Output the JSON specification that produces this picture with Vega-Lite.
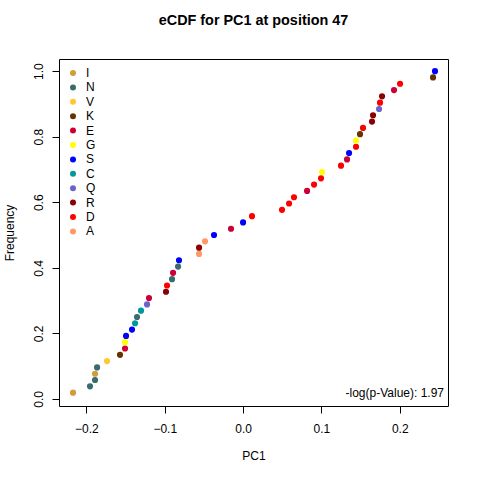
{
  "$schema": "https://vega.github.io/schema/vega-lite/v6.json",
  "autosize": {"type": "none"},
  "padding": {"left": 59, "top": 59, "right": 32, "bottom": 74},
  "width": 389,
  "height": 347,
  "title": {"text": "eCDF for PC1 at position 47", "fontSize": 14.4, "fontWeight": "bold", "anchor": "middle", "baseline": "alphabetic", "offset": 20, "color": "black", "font": "Liberation Sans"},
  "layer": [
    {
      "data": {"values": [
        {"aa": "I", "pc1": -0.2171, "freq": 0.0192},
        {"aa": "N", "pc1": -0.1954, "freq": 0.0385},
        {"aa": "N", "pc1": -0.1890, "freq": 0.0577},
        {"aa": "I", "pc1": -0.1890, "freq": 0.0769},
        {"aa": "N", "pc1": -0.1864, "freq": 0.0962},
        {"aa": "V", "pc1": -0.1737, "freq": 0.1154},
        {"aa": "K", "pc1": -0.1571, "freq": 0.1346},
        {"aa": "E", "pc1": -0.1507, "freq": 0.1538},
        {"aa": "G", "pc1": -0.1507, "freq": 0.1731},
        {"aa": "S", "pc1": -0.1494, "freq": 0.1923},
        {"aa": "S", "pc1": -0.1418, "freq": 0.2115},
        {"aa": "C", "pc1": -0.1379, "freq": 0.2308},
        {"aa": "N", "pc1": -0.1354, "freq": 0.25},
        {"aa": "C", "pc1": -0.1303, "freq": 0.2692},
        {"aa": "Q", "pc1": -0.1226, "freq": 0.2885},
        {"aa": "E", "pc1": -0.1201, "freq": 0.3077},
        {"aa": "R", "pc1": -0.0984, "freq": 0.3269},
        {"aa": "D", "pc1": -0.0971, "freq": 0.3462},
        {"aa": "N", "pc1": -0.0907, "freq": 0.3654},
        {"aa": "E", "pc1": -0.0894, "freq": 0.3846},
        {"aa": "N", "pc1": -0.0830, "freq": 0.4038},
        {"aa": "S", "pc1": -0.0818, "freq": 0.4231},
        {"aa": "A", "pc1": -0.0562, "freq": 0.4423},
        {"aa": "R", "pc1": -0.0562, "freq": 0.4615},
        {"aa": "A", "pc1": -0.0486, "freq": 0.4808},
        {"aa": "S", "pc1": -0.0371, "freq": 0.5},
        {"aa": "E", "pc1": -0.0154, "freq": 0.5192},
        {"aa": "S", "pc1": 0.0000, "freq": 0.5385},
        {"aa": "D", "pc1": 0.0114, "freq": 0.5577},
        {"aa": "D", "pc1": 0.0497, "freq": 0.5769},
        {"aa": "D", "pc1": 0.0587, "freq": 0.5962},
        {"aa": "D", "pc1": 0.0650, "freq": 0.6154},
        {"aa": "E", "pc1": 0.0817, "freq": 0.6346},
        {"aa": "D", "pc1": 0.0906, "freq": 0.6538},
        {"aa": "D", "pc1": 0.0995, "freq": 0.6731},
        {"aa": "G", "pc1": 0.1008, "freq": 0.6923},
        {"aa": "D", "pc1": 0.1250, "freq": 0.7115},
        {"aa": "E", "pc1": 0.1327, "freq": 0.7308},
        {"aa": "S", "pc1": 0.1353, "freq": 0.75},
        {"aa": "D", "pc1": 0.1442, "freq": 0.7692},
        {"aa": "G", "pc1": 0.1442, "freq": 0.7885},
        {"aa": "K", "pc1": 0.1493, "freq": 0.8077},
        {"aa": "D", "pc1": 0.1531, "freq": 0.8269},
        {"aa": "R", "pc1": 0.1646, "freq": 0.8462},
        {"aa": "R", "pc1": 0.1659, "freq": 0.8654},
        {"aa": "Q", "pc1": 0.1736, "freq": 0.8846},
        {"aa": "D", "pc1": 0.1748, "freq": 0.9038},
        {"aa": "R", "pc1": 0.1774, "freq": 0.9231},
        {"aa": "E", "pc1": 0.1927, "freq": 0.9423},
        {"aa": "D", "pc1": 0.2004, "freq": 0.9615},
        {"aa": "K", "pc1": 0.2425, "freq": 0.9808},
        {"aa": "S", "pc1": 0.2450, "freq": 1.0}
      ]},
      "mark": {"type": "circle", "size": 38, "opacity": 1},
      "encoding": {
        "x": {"field": "pc1", "type": "quantitative", "scale": {"domain": [-0.235, 0.2616], "nice": false, "zero": false},
              "axis": {"title": "PC1", "values": [-0.2, -0.1, 0, 0.1, 0.2], "format": ".1f"}},
        "y": {"field": "freq", "type": "quantitative", "scale": {"domain": [-0.0215, 1.037], "nice": false, "zero": false},
              "axis": {"title": "Frequency", "values": [0, 0.2, 0.4, 0.6, 0.8, 1.0], "format": ".1f", "labelAngle": -90, "labelAlign": "center", "labelBaseline": "alphabetic"}},
        "color": {"field": "aa", "type": "nominal",
                  "scale": {"domain": ["I", "N", "V", "K", "E", "G", "S", "C", "Q", "R", "D", "A"],
                            "range": ["#D19D3B", "#3A6B6E", "#FFC733", "#663300", "#CD0036", "#FFFF00", "#0000FF", "#00999A", "#6A62CD", "#8B0000", "#FF0000", "#FF9966"]},
                  "legend": {"title": null, "orient": "top-left", "offset": 8, "padding": 0, "symbolType": "circle", "symbolSize": 36, "symbolStrokeWidth": 0, "labelFontSize": 12, "labelOffset": 7, "rowPadding": 2.4, "labelColor": "black", "labelFont": "Liberation Sans"}}
      }
    },
    {
      "data": {"values": [{"label": "-log(p-Value): 1.97"}]},
      "mark": {"type": "text", "align": "right", "baseline": "middle", "fontSize": 12, "color": "black", "font": "Liberation Sans"},
      "encoding": {
        "x": {"datum": 0.2565, "type": "quantitative"},
        "y": {"datum": 0.0174, "type": "quantitative"},
        "text": {"field": "label"}
      }
    }
  ],
  "config": {
    "font": "Liberation Sans",
    "view": {"stroke": "black", "strokeWidth": 1},
    "axis": {"grid": false, "domain": false, "ticks": true, "tickColor": "black", "tickSize": 7, "tickWidth": 1,
             "labelFontSize": 12, "labelColor": "black", "labelPadding": 10, "labelFont": "Liberation Sans",
             "titleFontSize": 12, "titleFontWeight": "normal", "titleColor": "black", "titlePadding": 16, "titleFont": "Liberation Sans"}
  }
}
